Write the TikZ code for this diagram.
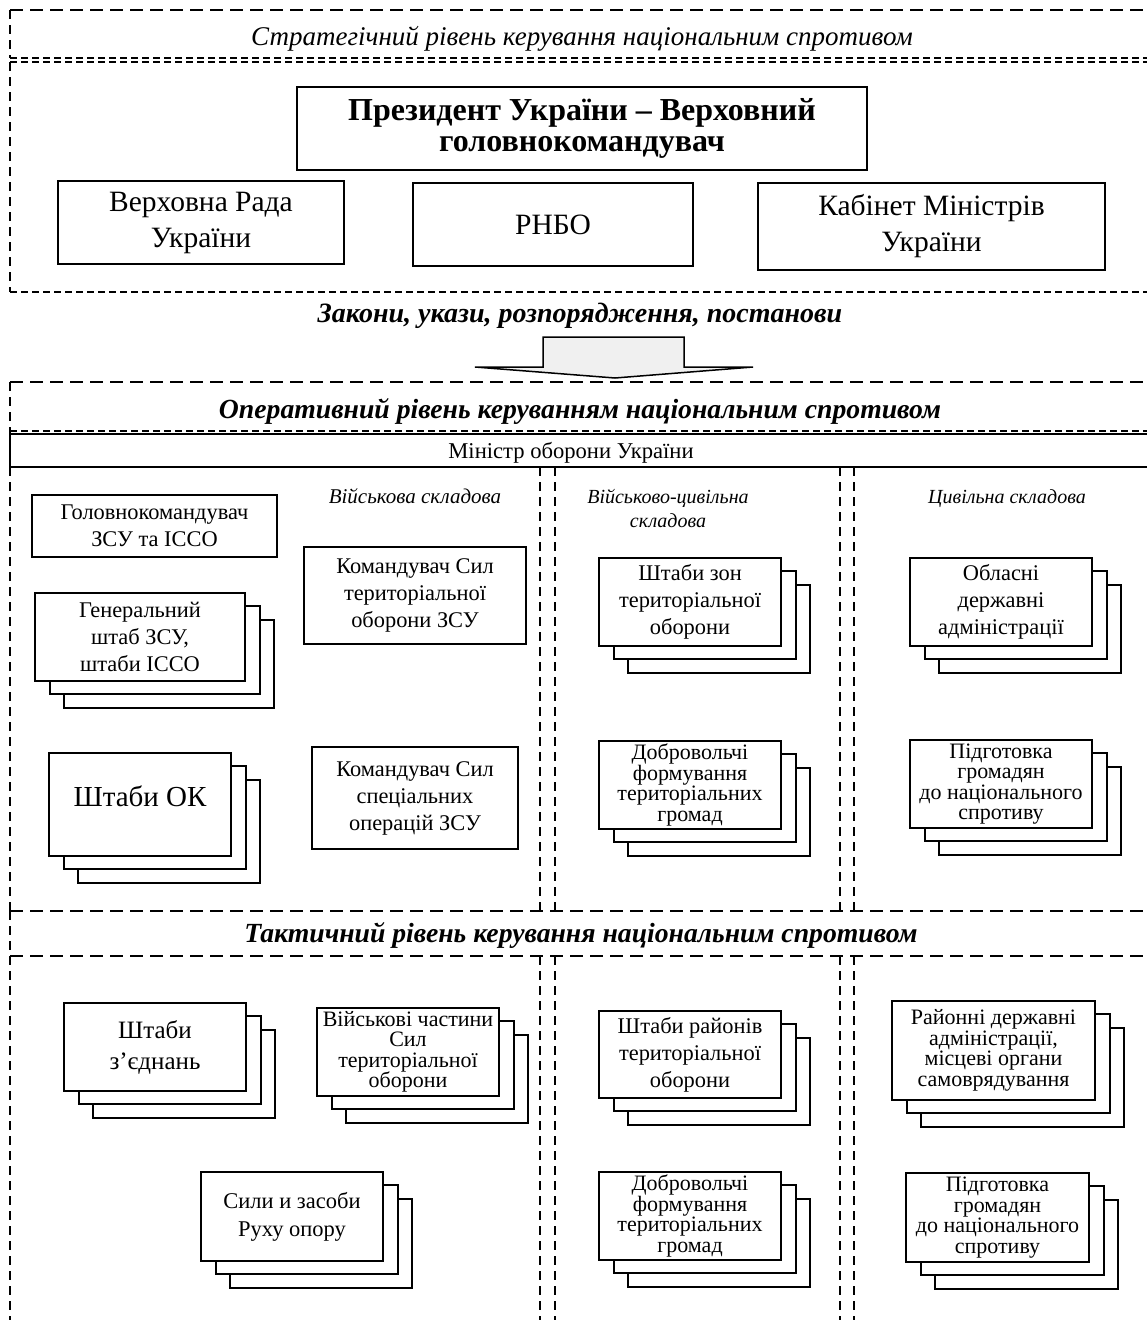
\documentclass[tikz,border=0pt]{standalone}
\usepackage{fontspec}
\setmainfont{Liberation Serif}
\usetikzlibrary{shadows}
\lineskiplimit=-100pt
\begin{document}
\begin{tikzpicture}[x=1pt,y=-1pt,
  dashbig/.style={line width=1.6pt, dash pattern=on 13pt off 7pt},
  dashfine/.style={line width=1.4pt, dash pattern=on 7pt off 4pt},
  dashvert/.style={line width=1.4pt, dash pattern=on 9pt off 6pt},
  box/.style={draw, line width=1.8pt, fill=white, inner sep=0pt, align=center},
  stackbox/.style={box,
    copy shadow={shadow xshift=29pt, shadow yshift=-27pt},
    copy shadow={shadow xshift=15pt, shadow yshift=-13pt}},
  sz/.style n args={2}{minimum width=#1, minimum height=#2},
  fbig/.style={font=\fontsize{29.5}{36}\selectfont},
  fpres/.style={font=\bfseries\fontsize{32}{31}\selectfont},
  fmid/.style={font=\fontsize{22.4}{27}\selectfont},
  ftight/.style={font=\fontsize{22}{20.5}\selectfont},
  fhead/.style={font=\bfseries\itshape\fontsize{27.7}{32}\selectfont},
  fcol/.style={font=\itshape\fontsize{20}{24}\selectfont, align=center},
  txt/.style={inner sep=0pt, anchor=base}
]
\useasboundingbox (0,0) rectangle (1147,1320);

% ---------- strategic level ----------
\draw[dashbig] (10,10) -- (1160,10);
\draw[dashvert] (10,10) -- (10,58);
\draw[dashfine] (10,58) -- (1160,58);
\draw[dashfine] (10,62) -- (1160,62);
\draw[dashvert] (10,62) -- (10,292);
\draw[dashfine] (10,292) -- (1160,292);
\node[txt, font=\itshape\fontsize{27}{30}\selectfont] (strat) at (582,45)
  {Стратегічний рівень керування національним спротивом};

\node[box, fpres, sz={570pt}{83pt}] (pres) at (582,128.5)
  {Президент України – Верховний\\головнокомандувач};
\node[box, fbig, sz={286pt}{83pt}] (vr) at (201,222.5) {Верховна Рада\\України};
\node[box, fbig, sz={280pt}{83pt}] (rnbo) at (553,224.5) {РНБО};
\node[box, fbig, sz={347pt}{87pt}] (km) at (931.5,226.5) {Кабінет Міністрів\\України};

% ---------- laws and arrow ----------
\node[txt, font=\bfseries\itshape\fontsize{28}{30}\selectfont] (laws) at (580,322)
  {Закони, укази, розпорядження, постанови};
\draw[line width=1.5pt, fill=gray!12]
  (543,367) -- (543,337) -- (684,337) -- (684,367) -- (753,367)
  -- (615,378) -- (475,367) -- cycle;

% ---------- operational level ----------
\draw[dashbig] (10,382) -- (1160,382);
\draw[dashvert] (10,382) -- (10,434);
\node[txt, fhead] (oper) at (580,418)
  {Оперативний рівень керуванням національним спротивом};
\draw[dashfine] (10,431) -- (1160,431);
\draw[line width=2.2pt] (10,434) -- (1160,434);
\draw[line width=1.4pt] (10,434) -- (10,467) -- (1160,467);
\node[txt, font=\fontsize{22.6}{27}\selectfont] (min) at (571,458) {Міністр оборони України};
\draw[dashvert] (10,467) -- (10,911);
\foreach \xx in {540,555,840,854}{
  \draw[dashvert] (\xx,467) -- (\xx,911);
  \draw[dashvert] (\xx,956) -- (\xx,1320);
}

\node[txt, fcol, font=\itshape\fontsize{21}{24}\selectfont] (colA) at (415,503) {Військова складова};
\node[txt, fcol] (colB) at (668,527) {Військово-цивільна\\складова};
\node[txt, fcol] (colC) at (1007,503) {Цивільна складова};

\node[box, fmid, sz={245pt}{62pt}] (gk) at (154.5,526) {Головнокомандувач\\ЗСУ та ІССО};
\node[stackbox, fmid, sz={210pt}{88pt}] (gsh) at (140,637) {Генеральний\\штаб ЗСУ,\\штаби ІССО};
\node[box, fmid, sz={222pt}{97pt}] (kto) at (415,595.5) {Командувач Сил\\територіальної\\оборони ЗСУ};
\node[stackbox, font=\fontsize{29}{34}\selectfont, sz={182pt}{103pt},
  text height=20pt, text depth=16pt] (shok) at (140,804.5) {Штаби ОК};
\node[box, fmid, sz={206pt}{102pt}] (kso) at (415,798) {Командувач Сил\\спеціальних\\операцій ЗСУ};

\node[stackbox, fmid, sz={182pt}{88pt}] (szto) at (690,602) {Штаби зон\\територіальної\\оборони};
\node[stackbox, ftight, sz={182pt}{88pt}] (dft1) at (690,785) {Добровольчі\\формування\\територіальних\\громад};
\node[stackbox, fmid, sz={182pt}{88pt}] (oda) at (1001,602) {Обласні\\державні\\адміністрації};
\node[stackbox, ftight, sz={182pt}{88pt}] (pg1) at (1001,784) {Підготовка\\громадян\\до національного\\спротиву};

% ---------- tactical level ----------
\draw[dashbig] (10,911) -- (1160,911);
\draw[dashvert] (10,911) -- (10,956);
\draw[dashbig] (10,956) -- (1160,956);
\draw[dashvert] (10,956) -- (10,1320);
\node[txt, fhead] (takt) at (581,942)
  {Тактичний рівень керування національним спротивом};

\node[stackbox, font=\fontsize{25}{31}\selectfont, sz={182pt}{88pt}] (shz) at (155,1047) {Штаби\\з’єднань};
\node[stackbox, ftight, sz={182pt}{88pt}] (vch) at (408,1052) {Військові частини\\Сил\\територіальної\\оборони};
\node[stackbox, font=\fontsize{22.5}{28}\selectfont, sz={182pt}{89pt}] (sro) at (292,1216.5) {Сили и засоби\\Руху опору};

\node[stackbox, fmid, sz={182pt}{87pt}] (shr) at (690,1054.5) {Штаби районів\\територіальної\\оборони};
\node[stackbox, ftight, sz={182pt}{88pt}] (dft2) at (690,1216) {Добровольчі\\формування\\територіальних\\громад};
\node[stackbox, ftight, sz={203pt}{99pt}] (rda) at (993.5,1050.5) {Районні державні\\адміністрації,\\місцеві органи\\самоврядування};
\node[stackbox, ftight, sz={183pt}{89pt}] (pg2) at (997.5,1217.5) {Підготовка\\громадян\\до національного\\спротиву};
\end{tikzpicture}
\end{document}
